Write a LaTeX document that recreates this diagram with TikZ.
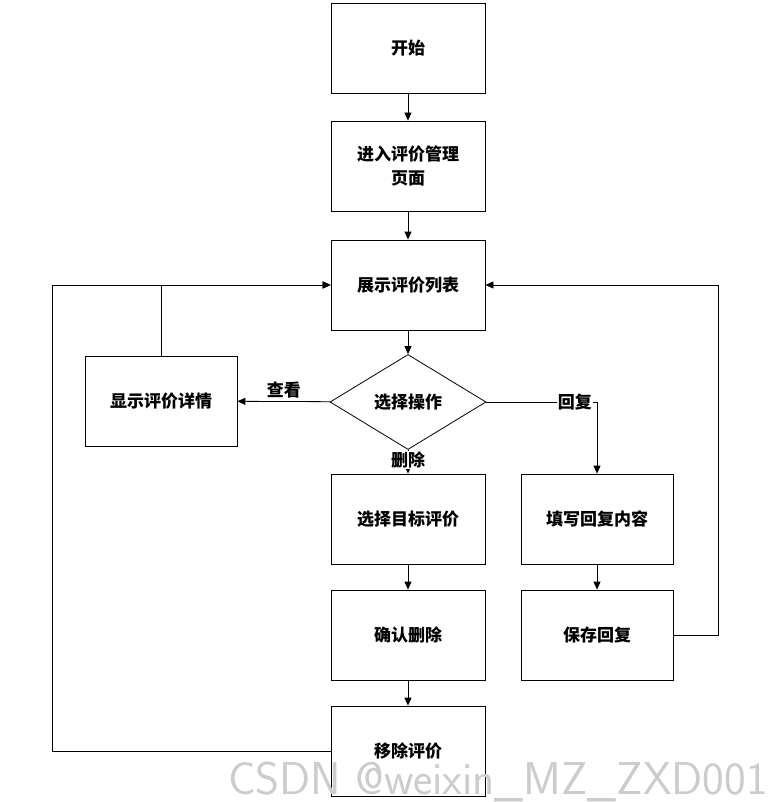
\documentclass[tikz,border=0pt]{standalone}
\usepackage{fontspec}
\setmainfont{Noto Sans CJK SC}
\usetikzlibrary{shapes.geometric,arrows.meta}
\begin{document}
\begin{tikzpicture}[x=1pt,y=-1pt,font=\bfseries\fontsize{17}{24}\selectfont, >={Triangle[length=8pt,width=7pt]},
  box/.style={draw, line width=0.8pt, minimum width=154pt, minimum height=90pt, align=center, inner sep=2pt},
  dec/.style={draw, diamond, aspect=1.65, line width=0.8pt, minimum width=156pt, minimum height=95pt, inner sep=0pt},
  line/.style={line width=0.8pt}]
\useasboundingbox (0,0) rectangle (773,802);
\node[box] (start) at (408,48) {开始};
\node[box] (enter) at (408,166) {进入评价管理\\页面};
\node[box] (list) at (408,285) {展示评价列表};
\node[dec] (op) at (408,402) {选择操作};
\node[box, minimum width=152pt] (detail) at (161,401) {显示评价详情};
\node[box] (target) at (408,519) {选择目标评价};
\node[box, minimum width=152pt] (fill) at (597,519) {填写回复内容};
\node[box] (confirm) at (408,635) {确认删除};
\node[box, minimum width=152pt] (save) at (597,635) {保存回复};
\node[box] (remove) at (408,751) {移除评价};
\coordinate (c1) at (52,285);
\coordinate (c2) at (718,285);
\draw[line,->] (start) -- (enter);
\draw[line,->] (enter) -- (list);
\draw[line,->] (list) -- (op);
\draw[line,->] (op) -- node[above, pos=0.5] {查看} (detail);
\draw[line,->] (op) -- (target);
\node[fill=white, inner sep=1pt] (del) at (408,460) {删除};
\draw[line,->] (op.east) -| node[pos=0.4, fill=white, inner sep=1pt] {回复} (fill);
\draw[line,->] (target) -- (confirm);
\draw[line,->] (confirm) -- (remove);
\draw[line,->] (fill) -- (save);
\draw[line,->] (detail.north) |- (list.west);
\draw[line,->] (remove.west) -| (c1) -- (list.west);
\draw[line,->] (save.east) -| (c2) -- (list.east);
\node[text=gray!40, font=\fontsize{46}{50}\selectfont\sffamily, anchor=south east, inner sep=2pt] (mark) at (770,804) {CSDN @weixin\_MZ\_ZXD001};
\end{tikzpicture}
\end{document}
